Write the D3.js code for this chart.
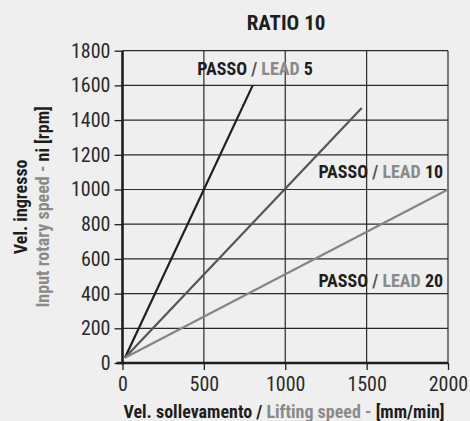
<!DOCTYPE html>
<html>
<head>
<meta charset="utf-8">
<script src="https://cdn.jsdelivr.net/npm/d3@7"></script>
<style>
  html, body { margin: 0; padding: 0; background: #efefef; }
  svg { display: block; }
  text { font-family: "Liberation Sans Narrow", "Roboto Condensed", "DejaVu Sans Condensed", sans-serif; }
</style>
</head>
<body>
<svg id="chart" width="470" height="421"></svg>
<script>
// Lifting speed (mm/min) against input rotary speed (rpm), ratio 10
const speedTicks = [0, 500, 1000, 1500, 2000];
const rpmTicks = [0, 200, 400, 600, 800, 1000, 1200, 1400, 1600, 1800];
const leads = ["5", "10", "20"];
const lead5 = [[15, 30], [800, 1600]];
const lead10 = [[15, 30], [1470, 1470]];
const lead20 = [[15, 30], [2000, 1000]];
const seriesColors = ["#1e1e1e", "#555555", "#858585"];
// Where each series label sits (right end, baseline) in data units
const labelAnchors = [[1170, 1660], [1970, 1066], [1970, 440]];

const svg = d3.select("#chart");
const x = d3.scaleLinear().domain([0, 2000]).range([122.5, 448]);
const y = d3.scaleLinear().domain([0, 1800]).range([363, 50.7]);

const dark = "#1e1e1e", grey = "#8a8a8a";

// grid
const grid = svg.append("g").attr("stroke", "#2a2a2a").attr("stroke-width", 1.2);
grid.selectAll("line.v").data(speedTicks.slice(1)).join("line")
  .attr("x1", d => x(d)).attr("x2", d => x(d)).attr("y1", y(0)).attr("y2", y(1800));
grid.selectAll("line.h").data(rpmTicks.slice(1)).join("line")
  .attr("x1", x(0)).attr("x2", x(2000)).attr("y1", d => y(d)).attr("y2", d => y(d));

// axes
const fmt = d3.format("d");
const yAxis = svg.append("g").attr("transform", `translate(${x(0)},0)`)
  .call(d3.axisLeft(y).tickValues(rpmTicks).tickFormat(fmt).tickSize(8).tickPadding(4));
const xAxis = svg.append("g").attr("transform", `translate(0,${y(0)})`)
  .call(d3.axisBottom(x).tickValues(speedTicks).tickFormat(fmt).tickSize(7).tickPadding(7));
[yAxis, xAxis].forEach(a => {
  a.select(".domain").remove();
  a.selectAll(".tick line").attr("stroke", dark).attr("stroke-width", 1.3);
  a.selectAll(".tick text").attr("fill", "#2a2a2a").style("font-size", "20px");
});
svg.append("line").attr("x1", x(0)).attr("x2", x(0)).attr("y1", y(0) + 1.5).attr("y2", y(1800))
  .attr("stroke", dark).attr("stroke-width", 2.6);
svg.append("line").attr("x1", x(0) - 6).attr("x2", x(2000)).attr("y1", y(0)).attr("y2", y(0))
  .attr("stroke", dark).attr("stroke-width", 2.6);

// series
const line = d3.line().x(d => x(d[0])).y(d => y(d[1]));
[lead5, lead10, lead20].forEach((s, i) => {
  svg.append("path").attr("d", line(s)).attr("fill", "none")
    .attr("stroke", seriesColors[i]).attr("stroke-width", 2.2);
});

// series labels
leads.forEach((lead, i) => {
  const t = svg.append("text")
    .attr("x", x(labelAnchors[i][0])).attr("y", y(labelAnchors[i][1]))
    .attr("text-anchor", "end").style("font-size", "18px").style("font-weight", "bold");
  t.append("tspan").attr("fill", dark).text("PASSO ");
  t.append("tspan").attr("fill", "#555").text("/ ");
  t.append("tspan").attr("fill", grey).text("LEAD ");
  t.append("tspan").attr("fill", dark).text(lead);
});

// title
svg.append("text").attr("x", 286).attr("y", 30).attr("text-anchor", "middle")
  .style("font-size", "21px").style("font-weight", "bold").attr("fill", dark).text("RATIO 10");

// x axis title
const xt = svg.append("text").attr("x", 284).attr("y", 418).attr("text-anchor", "middle")
  .style("font-size", "18px").style("font-weight", "bold");
xt.append("tspan").attr("fill", dark).text("Vel. sollevamento / ");
xt.append("tspan").attr("fill", grey).text("Lifting speed - ");
xt.append("tspan").attr("fill", dark).text("[mm/min]");

// y axis title (two lines)
const yMid = (y(0) + y(1800)) / 2;
svg.append("text").attr("transform", `translate(27,${yMid}) rotate(-90)`).attr("text-anchor", "middle")
  .style("font-size", "18px").style("font-weight", "bold").attr("fill", dark).text("Vel. ingresso");
const yt = svg.append("text").attr("transform", `translate(49,${yMid}) rotate(-90)`).attr("text-anchor", "middle")
  .style("font-size", "18px").style("font-weight", "bold");
yt.append("tspan").attr("fill", grey).text("Input rotary speed - ");
yt.append("tspan").attr("fill", dark).text("ni [rpm]");
</script>
</body>
</html>
